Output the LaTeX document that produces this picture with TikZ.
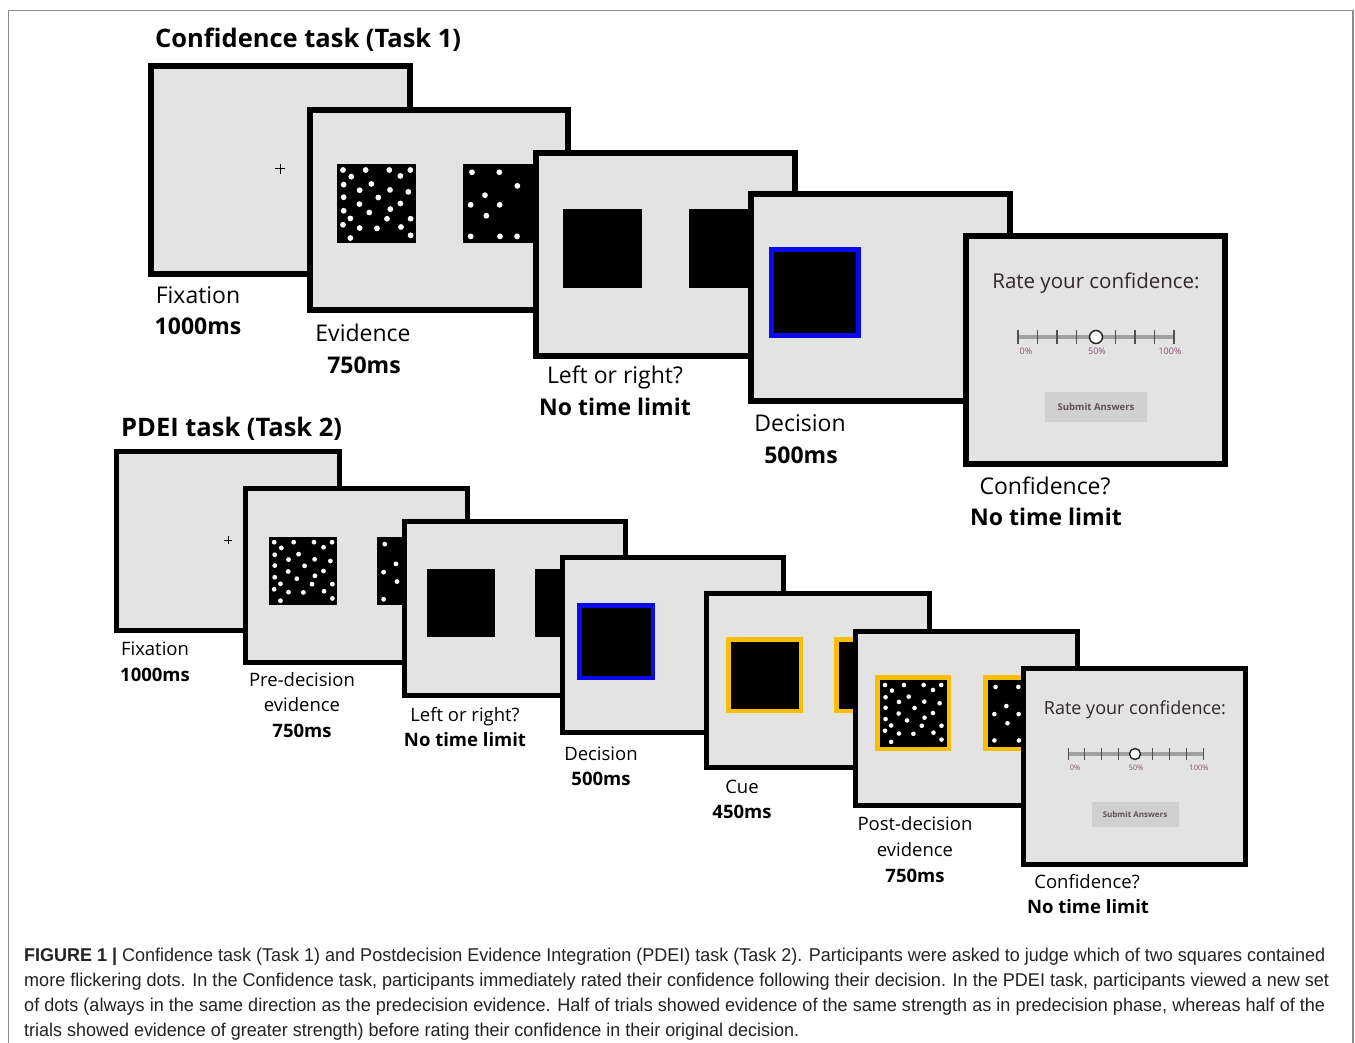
\documentclass[tikz,border=0pt]{standalone}
\usepackage{graphicx}
\usepackage{fontspec}
\setmainfont{Open Sans}
\newfontfamily\capfont{Liberation Sans}
\definecolor{scr}{RGB}{227,227,227}
\definecolor{bluesq}{RGB}{10,10,235}
\definecolor{yel}{RGB}{250,190,0}
\definecolor{framec}{RGB}{140,140,140}
\definecolor{ratec}{RGB}{50,38,46}
\definecolor{pctc}{RGB}{135,80,115}
\definecolor{btnc}{RGB}{208,208,208}
\definecolor{btntext}{RGB}{95,80,90}
\definecolor{sliderc}{RGB}{160,160,160}
\definecolor{tickc}{RGB}{80,80,80}
\definecolor{capc}{RGB}{35,35,35}
\newlength\fitlen
\newcommand\fitto[2]{\settowidth{\fitlen}{#2}\pgfmathsetmacro\fitfac{#1/\fitlen}\scalebox{\fitfac}[1]{#2}}
\def\densedots{0.076/0.076,0.363/0.076,0.662/0.076,0.928/0.076,0.181/0.160,0.802/0.151,0.084/0.261,0.435/0.252,0.287/0.332,0.671/0.328,0.903/0.353,0.084/0.420,0.523/0.424,0.283/0.508,0.802/0.500,0.084/0.592,0.675/0.571,0.409/0.613,0.169/0.689,0.633/0.693,0.932/0.693,0.076/0.769,0.287/0.811,0.506/0.815,0.810/0.798,0.169/0.937,0.932/0.903}
\def\sparsedots{0.114/0.105,0.460/0.105,0.688/0.277,0.278/0.395,0.097/0.517,0.464/0.517,0.295/0.655,0.097/0.916,0.468/0.916,0.684/0.916}
% screen: x1 y1 x2 y2 linewidth
\newcommand\screen[5]{%
  \fill[scr] (#1,#2) rectangle (#3,#4);
  \draw[line width=#5pt] ({#1+#5/2},{#2+#5/2}) rectangle ({#3-#5/2},{#4-#5/2});}
% dotted square: x y size radius list
\newcommand\dotsq[5]{%
  \fill (#1,#2) rectangle ++(#3,#3);
  \foreach \u/\v in #5 {\fill[white] ({#1+\u*#3},{#2+\v*#3}) circle[radius=#4pt];}}
% coloured frame square: x1 y1 x2 y2 colour lw
\newcommand\framesq[6]{%
  \draw[#5, line width=#6pt, fill=black] ({#1+#6/2},{#2+#6/2}) rectangle ({#3-#6/2},{#4-#6/2});}
\tikzset{
  lab1/.style={font=\fontsize{23}{27}\selectfont, anchor=base, inner sep=0pt},
  lab1b/.style={font=\fontsize{23}{27}\selectfont\bfseries, anchor=base, inner sep=0pt},
  lab2/.style={font=\fontsize{18.5}{22}\selectfont, anchor=base, inner sep=0pt},
  lab2b/.style={font=\fontsize{18.5}{22}\selectfont\bfseries, anchor=base, inner sep=0pt},
  ttl/.style={font=\fontsize{25.5}{30}\selectfont\bfseries, anchor=base west, inner sep=0pt},
  caption/.style={font=\capfont\fontsize{18.5}{22}\selectfont, text=capc, anchor=base west, inner sep=0pt},
  pct/.style={font=\fontsize{9}{10}\selectfont, text=pctc, anchor=base, inner sep=0pt},
  pcttwo/.style={font=\fontsize{7.5}{8}\selectfont, text=pctc, anchor=base, inner sep=0pt},
}
\begin{document}
\begin{tikzpicture}[x=1pt,y=-1pt]
\useasboundingbox (0,0) rectangle (1355,1043);
\fill[white] (0,0) rectangle (1355,1043);
\draw[framec, line width=1.5pt] (8.5,1043) -- (8.5,10.5) -- (1353,10.5) -- (1353,1043);

% ---------------- Task 1 ----------------
\node[ttl] (t1) at (155,48) {Confidence task (Task 1)};
\screen{148}{63}{413}{277}{6}
\draw[line width=1pt] (275,169) -- (285,169) (280,164) -- (280,174);
\screen{307}{107}{571}{313}{6}
\dotsq{337}{164}{79}{2.9}{\densedots}
\dotsq{463}{164}{79}{2.9}{\sparsedots}
\screen{533}{150}{798}{359}{6}
\fill (563,209) rectangle ++(79,79);
\fill (689,209) rectangle ++(79,79);
\screen{748}{191}{1013}{404}{6}
\framesq{769}{247}{861}{338}{bluesq}{5}
\screen{963}{233}{1228}{467}{6}
\node[font=\fontsize{20.5}{24}\selectfont, text=ratec, anchor=base, inner sep=0pt] (r1) at (1096,288) {Rate your confidence:};
\draw[sliderc, line width=4.5pt] (1018,337) -- (1174,337);
\foreach \k in {0,...,8} {\draw[tickc, line width=1.1pt] ({1018+\k*19.5},330) -- ({1018+\k*19.5},344);}
\draw[fill=white, draw=black!85, line width=1.5pt] (1096,337) circle[radius=6.5pt];
\node[pct] (p10) at (1026,354) {0\%};
\node[pct] (p150) at (1097,354) {50\%};
\node[pct] (p1100) at (1170,354) {100\%};
\fill[btnc] (1045,392) rectangle (1147,422);
\node[font=\fontsize{9.5}{10}\selectfont\bfseries, text=btntext, inner sep=0pt] (b1) at (1096,407) {Submit Answers};

\node[lab1] (f1a) at (198,303) {Fixation};
\node[lab1b] (f1b) at (198,334) {1000ms};
\node[lab1] (e1a) at (363,341) {Evidence};
\node[lab1b] (e1b) at (364,373) {750ms};
\node[lab1] (l1a) at (615,383) {Left or right?};
\node[lab1b] (l1b) at (615,415) {No time limit};
\node[lab1] (d1a) at (800,431) {Decision};
\node[lab1b] (d1b) at (801,463) {500ms};
\node[lab1] (c1a) at (1045,494) {Confidence?};
\node[lab1b] (c1b) at (1046,525) {No time limit};

% ---------------- Task 2 ----------------
\node[ttl] (t2) at (121,436) {PDEI task (Task 2)};
\screen{114}{449}{342}{633}{5}
\draw[line width=0.9pt] (224,540) -- (232,540) (228,536) -- (228,544);
\screen{243}{486}{470}{665}{5}
\dotsq{269}{537}{68}{2.4}{\densedots}
\dotsq{377}{537}{68}{2.4}{\sparsedots}
\screen{402}{519}{628}{698}{5}
\fill (427,569) rectangle ++(68,68);
\fill (535,569) rectangle ++(68,68);
\screen{560}{555}{786}{735}{5}
\framesq{577}{603}{655}{680}{bluesq}{4.5}
\screen{704}{591}{932}{770}{5}
\framesq{726}{637}{803}{713}{yel}{4.5}
\framesq{834}{637}{911}{713}{yel}{4.5}
\screen{853}{629}{1080}{808}{5}
\framesq{875}{675}{951}{751}{yel}{4.5}
\dotsq{880}{680}{66}{2.3}{\densedots}
\framesq{983}{675}{1059}{751}{yel}{4.5}
\dotsq{988}{680}{66}{2.3}{\sparsedots}
\screen{1021}{666}{1248}{867}{5}
\node[font=\fontsize{18}{21}\selectfont, text=ratec, anchor=base, inner sep=0pt] (r2) at (1135,714) {Rate your confidence:};
\draw[sliderc, line width=4pt] (1068,754) -- (1203,754);
\foreach \k in {0,...,8} {\draw[tickc, line width=1pt] ({1068+\k*16.875},748) -- ({1068+\k*16.875},760);}
\draw[fill=white, draw=black!85, line width=1.4pt] (1135,754) circle[radius=5.5pt];
\node[pcttwo] (p20) at (1075,770) {0\%};
\node[pcttwo] (p250) at (1136,770) {50\%};
\node[pcttwo] (p2100) at (1199,770) {100\%};
\fill[btnc] (1092,802) rectangle (1179,827);
\node[font=\fontsize{8}{9}\selectfont\bfseries, text=btntext, inner sep=0pt] (b2) at (1135,814.5) {Submit Answers};

\node[lab2] (f2a) at (155,655) {Fixation};
\node[lab2b] (f2b) at (155,681) {1000ms};
\node[lab2] (e2a) at (302,686) {Pre-decision};
\node[lab2] (e2b) at (302,711) {evidence};
\node[lab2b] (e2c) at (302,737) {750ms};
\node[lab2] (l2a) at (465,721) {Left or right?};
\node[lab2b] (l2b) at (465,746) {No time limit};
\node[lab2] (d2a) at (601,760) {Decision};
\node[lab2b] (d2b) at (601,785) {500ms};
\node[lab2] (q2a) at (742,793) {Cue};
\node[lab2b] (q2b) at (742,818) {450ms};
\node[lab2] (s2a) at (915,830) {Post-decision};
\node[lab2] (s2b) at (915,856) {evidence};
\node[lab2b] (s2c) at (915,882) {750ms};
\node[lab2] (c2a) at (1087,888) {Confidence?};
\node[lab2b] (c2b) at (1088,913) {No time limit};

% ---------------- Caption ----------------
\node[caption] (cap1) at (24,961) {\fitto{1301}{\textbf{FIGURE 1 |} Confidence task (Task 1) and Postdecision Evidence Integration (PDEI) task (Task 2). Participants were asked to judge which of two squares contained}};
\node[caption] (cap2) at (24,986) {\fitto{1305}{more flickering dots. In the Confidence task, participants immediately rated their confidence following their decision. In the PDEI task, participants viewed a new set}};
\node[caption] (cap3) at (24,1011) {\fitto{1301}{of dots (always in the same direction as the predecision evidence. Half of trials showed evidence of the same strength as in predecision phase, whereas half of the}};
\node[caption] (cap4) at (24,1036) {\fitto{775}{trials showed evidence of greater strength) before rating their confidence in their original decision.}};
\end{tikzpicture}
\end{document}
